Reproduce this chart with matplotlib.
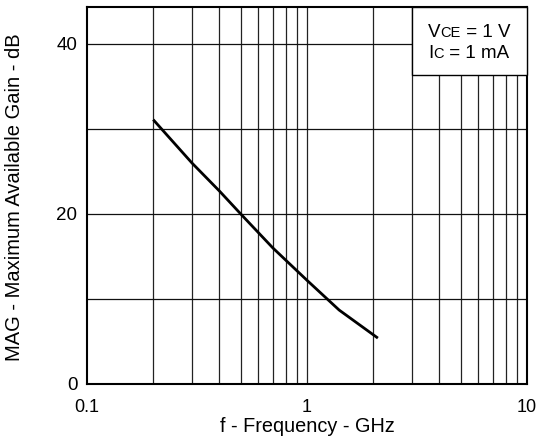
import matplotlib
matplotlib.use("Agg")
import matplotlib.pyplot as plt
from matplotlib.ticker import FixedLocator, NullFormatter
from matplotlib.patches import Rectangle

plt.rcParams['font.family'] = ['Liberation Sans', 'DejaVu Sans']

freq_ghz = [0.2, 0.3, 0.4, 0.5, 0.7, 1.0, 1.4, 2.1]
mag_db = [31.1, 26.0, 22.7, 20.0, 16.0, 12.2, 8.7, 5.4]

x_ticks = [0.1, 1, 10]
x_ticklabels = ["0.1", "1", "10"]
y_ticks = [0, 20, 40]
y_ticklabels = ["0", "20", "40"]
y_grid = [0, 10, 20, 30, 40]

W, H = 539, 442
fig = plt.figure(figsize=(W/100, H/100), dpi=100)
ax = fig.add_axes([87/W, 1-384/H, 440/W, 377/H])

ax.set_xscale('log')
ax.set_xlim(0.1, 10)
ax.set_ylim(0, 377/8.5)

# grid
minor = [m * d for d in (0.1, 1) for m in range(2, 10)]
for xv in minor + [1]:
    ax.axvline(xv, color='#222222', lw=0.9, zorder=1)
for yv in y_grid[1:]:
    ax.axhline(yv, color='#111111', lw=0.9, zorder=1)

ax.plot(freq_ghz, mag_db, color='black', lw=2.0, zorder=3, solid_capstyle='butt')

ax.xaxis.set_major_locator(FixedLocator(x_ticks))
ax.set_xticklabels(x_ticklabels)
ax.xaxis.set_minor_formatter(NullFormatter())
ax.set_yticks(y_ticks)
ax.set_yticklabels(y_ticklabels)
ax.tick_params(axis='both', which='both', length=0, colors='black')
ax.tick_params(axis='x', pad=11, labelsize=13)
ax.tick_params(axis='y', pad=7, labelsize=13.5)
for s in ax.spines.values():
    s.set_linewidth(1.5)
    s.set_color('black')

fig.text(307/W, 1-432/H, "f - Frequency - GHz", fontsize=14.3, ha='center', va='baseline')
fig.text(15/W, 1-197.5/H, "MAG - Maximum Available Gain - dB", fontsize=14.5,
         ha='center', va='center', rotation=90)

# condition box
bx0 = (411.5-87)/440
by0 = (384-75)/377
box = Rectangle((bx0, by0), 1-bx0, 1-by0, transform=ax.transAxes,
                facecolor='white', edgecolor='black', lw=1.0, zorder=4, clip_on=False)
ax.add_patch(box)

fs = 13.5
fs_sub = 10.5
x0 = (428-87)/440
rows = [((384-36.7)/377, [("V", fs), ("CE", fs_sub), (" = 1 V", fs)]),
        ((384-57.7)/377, [("I", fs), ("C", fs_sub), (" = 1 mA", fs)])]
fig.canvas.draw()
renderer = fig.canvas.get_renderer()
for yb, parts in rows:
    xcur = x0
    for txt, size in parts:
        t = ax.text(xcur, yb, txt, transform=ax.transAxes, fontsize=size,
                    ha='left', va='baseline', zorder=5)
        bb = t.get_window_extent(renderer)
        xcur = ax.transAxes.inverted().transform((bb.x1, bb.y0))[0]

fig.savefig("out.png", dpi=100)
